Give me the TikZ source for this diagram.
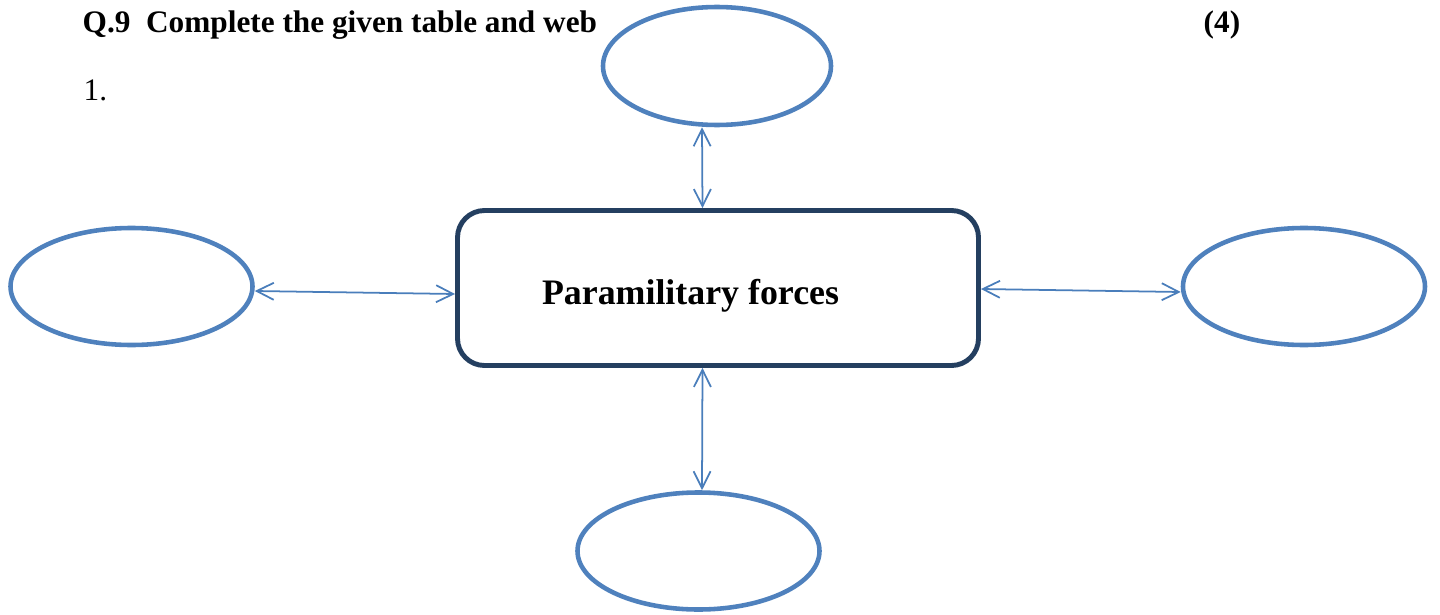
\documentclass[tikz,border=0pt]{standalone}
\usepackage{fontspec}
\setmainfont{Liberation Serif}
\usepackage{tikz}
\usetikzlibrary{arrows.meta, calc, positioning, shapes.geometric}
\definecolor{webblue}{HTML}{4F81BD}
\definecolor{webnavy}{HTML}{243F60}
\definecolor{linkblue}{HTML}{4A7EBB}

\begin{document}
\begin{tikzpicture}[% styles used in image code
           > = {Straight Barb[length=1.7mm, width=1.7mm]},
  blank/.style = {ellipse, draw=webblue, line width=1.3pt,
                  inner sep=0pt, minimum width=2.42cm, minimum height=1.17cm},
   core/.style = {draw=webnavy, line width=1.4pt, rounded corners=0.27cm,
                  inner sep=0pt, minimum width=5.21cm, minimum height=1.55cm},
   link/.style = {<->, draw=linkblue, line width=0.5pt},
  title/.style = {anchor=base west, inner sep=0pt, font=\fontsize{8.9}{10}\selectfont\bfseries}
                    ]
	\useasboundingbox (0,0) rectangle (14.4,-6.15);

	% heading
	\node[title] (q)    at (0.82,-0.32)  {Q.9\ \ Complete the given table and web};
	\node[title] (mark) at (12.03,-0.32) {(4)};
	\node[title, font=\fontsize{8.9}{10}\selectfont] (num) at (0.83,-1.00) {1.};

	% web
	\node[core] (box) at (7.18,-2.88) {};
	\node[anchor=base, inner sep=0pt, font=\fontsize{10.2}{12}\selectfont\bfseries]
		(boxtext) at (6.905,-3.04) {Paramilitary forces};

	\node[blank, minimum width=2.28cm, minimum height=1.18cm] (top) at (7.17,-0.66) {};
	\node[blank] (left)   at (1.315,-2.865) {};
	\node[blank] (right)  at (13.04,-2.865) {};
	\node[blank] (bottom) at (6.985,-5.51)  {};

	\draw[link] ([xshift=-1.5mm]top.south) -- ([xshift=-1.55mm]box.north);
	\draw[link] ([xshift=-1.55mm]box.south) -- ([xshift=0.35mm]bottom.north);
	\draw[link] ([yshift=-0.45mm]left.east) -- ([yshift=-0.6mm]box.west);
	\draw[link] ([yshift=-0.1mm]box.east) -- ([yshift=-0.55mm]right.west);
\end{tikzpicture}
\end{document}
